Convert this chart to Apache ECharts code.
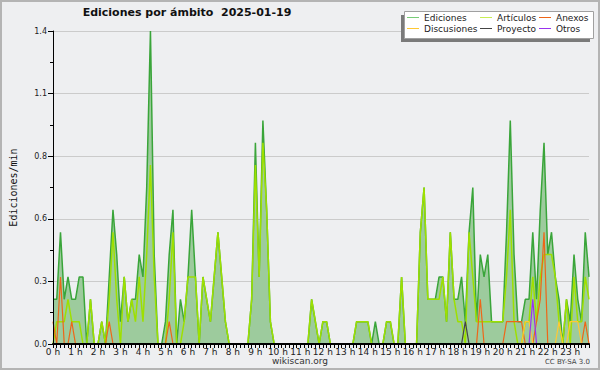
<!DOCTYPE html>
<html><head><meta charset="utf-8">
<script src="https://cdn.jsdelivr.net/npm/echarts@6/dist/echarts.min.js"></script>
<style>html,body{margin:0;padding:0;background:#eeeff1}#c{width:600px;height:370px}</style>
</head><body><div id="c"></div>
<script>
// ---- data (10-minute buckets, edits per minute) ----
const hourLabels = ['0 h','1 h','2 h','3 h','4 h','5 h','6 h','7 h','8 h','9 h','10 h','11 h','12 h','13 h','14 h','15 h','16 h','17 h','18 h','19 h','20 h','21 h','22 h','23 h'];
const minuteLabels = ['00','10','20','30','40','50'];

const ediciones = [
  0.2,0.2,0.5,0.2,0.3,0.2, 0.2,0.3,0.3,0,0.2,0,
  0,0.1,0,0.3,0.6,0.4, 0.1,0.3,0.1,0.2,0.2,0.4,
  0.3,0.7,1.4,0.4,0,0, 0.1,0.4,0.6,0,0.2,0.1,
  0.3,0.6,0.3,0,0.3,0.2, 0.1,0.3,0.5,0.3,0.1,0,
  0,0,0,0,0,0.2, 0.9,0.3,1.0,0.6,0.1,0,
  0,0,0,0,0,0, 0,0,0,0.2,0.1,0,
  0.1,0.1,0,0,0,0, 0,0,0,0.1,0.1,0.1,
  0.1,0,0.1,0,0,0.1, 0.1,0,0,0.3,0,0,
  0,0,0.5,0.7,0.2,0.2, 0.2,0.3,0.3,0.1,0.5,0.2,
  0.2,0.3,0.1,0.5,0.7,0.1, 0.4,0.3,0.4,0.1,0.1,0.1,
  0.1,0.5,1.0,0.4,0.1,0.1, 0.2,0.2,0.5,0.2,0.6,0.9,
  0.4,0.5,0.3,0.2,0,0.2, 0.1,0.4,0.2,0.1,0.5,0.3
];
const articulos = [
  0,0.1,0.1,0.1,0.2,0.1, 0.1,0.1,0,0,0.2,0,
  0,0.1,0,0.2,0.5,0.2, 0,0.3,0.1,0.2,0.1,0.3,
  0.1,0.4,0.8,0.3,0,0, 0,0.2,0.5,0,0,0.1,
  0.3,0.3,0.3,0,0.3,0.2, 0.1,0.3,0.5,0.3,0.1,0,
  0,0,0,0,0,0.2, 0.8,0.3,0.9,0.6,0.1,0,
  0,0,0,0,0,0, 0,0,0,0.2,0.1,0,
  0.1,0.1,0,0,0,0, 0,0,0,0.1,0.1,0.1,
  0.1,0,0,0,0,0.1, 0.1,0,0,0.3,0,0,
  0,0,0.5,0.7,0.2,0.2, 0.2,0.2,0.3,0.1,0.5,0.2,
  0.1,0.1,0,0.5,0.3,0.1, 0.1,0.1,0.1,0.1,0.1,0.1,
  0.1,0.3,0.6,0.1,0,0, 0.1,0.1,0.3,0.1,0.3,0.4,
  0.4,0.4,0.3,0.1,0,0.2, 0,0.3,0.1,0.1,0.3,0.2
];
const anexos = [
  0.1,0,0.3,0,0,0.1, 0,0,0,0,0,0,
  0,0,0,0.1,0,0, 0,0,0,0,0,0,
  0,0,0,0,0,0, 0,0.1,0,0,0,0,
  0,0,0,0,0,0, 0,0,0,0,0,0,
  0,0,0,0,0,0, 0,0,0,0,0,0,
  0,0,0,0,0,0, 0,0,0,0,0,0,
  0,0,0,0,0,0, 0,0,0,0,0,0,
  0,0,0,0,0,0, 0,0,0,0,0,0,
  0,0,0,0,0,0, 0,0,0,0,0,0,
  0,0,0,0,0,0, 0.2,0,0,0,0,0,
  0,0.1,0.1,0.1,0.1,0.1, 0,0,0,0.1,0.2,0.5,
  0,0,0,0,0,0, 0,0,0,0,0.1,0
];
const discusiones = [
  0,0,0,0,0,0, 0,0,0,0,0,0,
  0,0,0,0,0,0, 0,0,0,0,0,0,
  0,0,0,0,0,0, 0,0,0,0,0,0,
  0,0,0,0,0,0, 0,0,0,0,0,0,
  0,0,0,0,0,0, 0,0,0,0,0,0,
  0,0,0,0,0,0, 0,0,0,0,0,0,
  0,0,0,0,0,0, 0,0,0,0,0,0,
  0,0,0,0,0,0, 0,0,0,0,0,0,
  0,0,0,0,0,0, 0,0,0,0,0,0,
  0,0,0,0,0,0, 0,0,0,0,0,0,
  0,0,0,0,0,0, 0.1,0.1,0,0,0,0,
  0,0,0,0.1,0,0, 0.1,0.1,0.1,0,0,0
];
const proyecto = [
  0,0,0,0,0,0, 0,0,0,0,0,0,
  0,0,0,0,0,0, 0,0,0,0,0,0,
  0,0,0,0,0,0, 0,0,0,0,0,0,
  0,0,0,0,0,0, 0,0,0,0,0,0,
  0,0,0,0,0,0, 0,0,0,0,0,0,
  0,0,0,0,0,0, 0,0,0,0,0,0,
  0,0,0,0,0,0, 0,0,0,0,0,0,
  0,0,0,0,0,0, 0,0,0,0,0,0,
  0,0,0,0,0,0, 0,0,0,0,0,0,
  0,0,0.1,0,0,0, 0,0,0,0,0,0,
  0,0,0,0,0,0, 0,0,0,0,0,0,
  0,0,0,0,0,0, 0,0,0,0,0,0
];
const otros = [
  0,0,0,0,0,0, 0,0,0,0,0,0,
  0,0,0,0,0,0, 0,0,0,0,0,0,
  0,0,0,0,0,0, 0,0,0,0,0,0,
  0,0,0,0,0,0, 0,0,0,0,0,0,
  0,0,0,0,0,0, 0,0,0,0,0,0,
  0,0,0,0,0,0, 0,0,0,0,0,0,
  0,0,0,0,0,0, 0,0,0,0,0,0,
  0,0,0,0,0,0, 0,0,0,0,0,0,
  0,0,0,0,0,0, 0,0,0,0,0,0,
  0,0,0,0,0,0, 0,0,0,0,0,0,
  0,0,0,0,0,0, 0,0,0.2,0,0,0,
  0,0,0,0,0,0, 0,0,0,0,0,0
];

// ---- build ----
const categories = [];
hourLabels.forEach((h, hi) => minuteLabels.forEach(m => categories.push(hi + ':' + m)));

const FONT = 'DejaVu Sans';
const COLORS = {
  Ediciones: '#3aa53a', EdicionesLegend: '#77cc77', EdicionesFill: '#9dcb9d',
  'Artículos': '#9ee000', 'ArtículosLegend': '#c8ee55',
  Anexos: '#ee6618', Discusiones: '#ffc833', Proyecto: '#444444', Otros: '#9933ee'
};

const chart = echarts.init(document.getElementById('c'), null, {renderer: 'svg'});

function lineSeries(name, data, color, width, z) {
  return {name, type: 'line', data, symbol: 'none', yAxisIndex: 0,
    lineStyle: {color, width}, itemStyle: {color}, z, animation: false};
}

function legendAt(name, color, left, top) {
  return {data: [{name, itemStyle: {color}}], left, top, icon: 'rect', padding: 0,
    itemWidth: 12, itemHeight: 1, selectedMode: false, z: 10,
    textStyle: {fontFamily: FONT, fontSize: 9, color: '#222'}};
}

chart.setOption({
  animation: false,
  backgroundColor: '#eeeff1',
  title: [
    {text: 'Ediciones por ámbito  2025-01-19', left: 187, top: 7, textAlign: 'center', padding: 0,
     textStyle: {fontFamily: FONT, fontSize: 11, fontWeight: 'bold', color: '#111'}},
    {text: 'wikiscan.org', left: 300, top: 356, textAlign: 'center', padding: 0,
     textStyle: {fontFamily: FONT, fontSize: 9, fontWeight: 'normal', color: '#333'}},
    {text: 'CC BY-SA 3.0', left: 590, top: 358, textAlign: 'right', padding: 0,
     textStyle: {fontFamily: FONT, fontSize: 7, fontWeight: 'normal', color: '#444'}}
  ],
  graphic: [
    {type: 'rect', z: 1, shape: {x: 1, y: 1, width: 598, height: 368},
     style: {fill: 'none', stroke: '#b4b4b4', lineWidth: 2}},
    {type: 'rect', z: 8, shape: {x: 401, y: 15, width: 189, height: 27},
     style: {fill: '#7a7a7a'}},
    {type: 'rect', z: 9, shape: {x: 404.5, y: 11.5, width: 189, height: 27},
     style: {fill: '#ffffff', stroke: '#a0a0a0', lineWidth: 1}}
  ],
  legend: [
    legendAt('Ediciones', COLORS.EdicionesLegend, 407, 13),
    legendAt('Artículos', COLORS['ArtículosLegend'], 480, 13),
    legendAt('Anexos', COLORS.Anexos, 539, 13),
    legendAt('Discusiones', COLORS.Discusiones, 407, 24),
    legendAt('Proyecto', COLORS.Proyecto, 480, 24),
    legendAt('Otros', COLORS.Otros, 539, 24)
  ],
  grid: {left: 47, right: 11, top: 31, bottom: 26, containLabel: false},
  xAxis: {
    type: 'category', data: categories, boundaryGap: false, z: 10,
    axisLine: {lineStyle: {color: '#000', width: 2}},
    axisTick: {interval: 0, length: 4, lineStyle: {color: '#000', width: 1}},
    axisLabel: {interval: 0, margin: 3, fontFamily: FONT, fontSize: 9, color: '#222',
      formatter: (v, i) => (i % 6 === 0 ? hourLabels[i / 6] : '')},
    splitLine: {show: false}
  },
  yAxis: [
    {type: 'value', min: 0, max: 1.4, interval: 0.28, z: 0,
     axisLine: {show: false}, axisTick: {show: false}, axisLabel: {show: false},
     splitLine: {show: true, lineStyle: {color: '#cbcbcb', width: 1}}},
    {type: 'value', min: 0, max: 1.4, interval: 0.28, z: 10, position: 'left',
     name: 'Ediciones/min', nameLocation: 'middle', nameRotate: 90, nameGap: 35,
     nameTextStyle: {fontFamily: 'DejaVu Sans Mono', fontSize: 10, color: '#111'},
     axisLine: {show: true, lineStyle: {color: '#000', width: 1}},
     axisTick: {show: true, length: 5, lineStyle: {color: '#000'}},
     minorTick: {show: true, splitNumber: 2, length: 3, lineStyle: {color: '#000'}},
     axisLabel: {margin: 6, fontFamily: FONT, fontSize: 8, color: '#222',
       formatter: v => v.toFixed(1)},
     splitLine: {show: false}}
  ],
  series: [
    Object.assign(lineSeries('Ediciones', ediciones, COLORS.Ediciones, 1.5, 2),
      {areaStyle: {color: COLORS.EdicionesFill, opacity: 1}}),
    lineSeries('Artículos', articulos, COLORS['Artículos'], 1.5, 3),
    lineSeries('Anexos', anexos, COLORS.Anexos, 1.2, 4),
    lineSeries('Discusiones', discusiones, COLORS.Discusiones, 1.2, 4),
    lineSeries('Proyecto', proyecto, COLORS.Proyecto, 1.2, 4),
    lineSeries('Otros', otros, COLORS.Otros, 1.2, 4)
  ]
});
</script></body></html>
